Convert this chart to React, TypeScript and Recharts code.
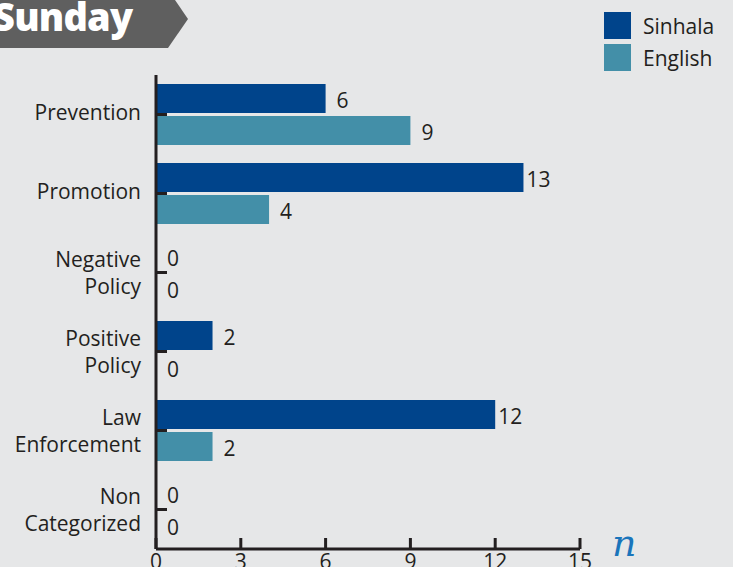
import React from "react";
import { BarChart, Bar, XAxis, YAxis, LabelList } from "recharts";

const categories = [
  ["Prevention"],
  ["Promotion"],
  ["Negative", "Policy"],
  ["Positive", "Policy"],
  ["Law", "Enforcement"],
  ["Non", "Categorized"],
];
const sinhala = [6, 13, 0, 2, 12, 0];
const english = [9, 4, 0, 0, 2, 0];
const xTicks = [0, 3, 6, 9, 12, 15];
const seriesNames = ["Sinhala", "English"];

const data = categories.map((c, i) => ({
  name: c.join(" "),
  Sinhala: sinhala[i],
  English: english[i],
}));
const labelLines: Record<string, string[]> = {};
categories.forEach((c) => (labelLines[c.join(" ")] = c));

const BG = "#e6e7e8";
const C1 = "#00448b";
const C2 = "#438fa8";
const INK = "#231f20";
const FONT = "'Open Sans', 'Noto Sans', sans-serif";

const YTick = (props: any) => {
  const { x, y, payload } = props;
  const lines = labelLines[payload.value] || [payload.value];
  const lh = 27;
  const start = y - ((lines.length - 1) * lh) / 2 - (lines.length === 1 ? 3 : 0);
  return (
    <g>
      <line x1={x} y1={y} x2={x + 11} y2={y} stroke={INK} strokeWidth={3} />
      {lines.map((l: string, i: number) => (
        <text
          key={i}
          x={x - 15}
          y={start + i * lh}
          textAnchor="end"
          dominantBaseline="central"
          fontSize={21}
          fontFamily={FONT}
          fill={INK}
        >
          {l}
        </text>
      ))}
    </g>
  );
};

const XTick = (props: any) => {
  const { x, y, payload } = props;
  return (
    <g>
      <line x1={x} y1={y - 11} x2={x} y2={y} stroke={INK} strokeWidth={3} />
      <text
        x={x}
        y={y + 20}
        textAnchor="middle"
        fontSize={21}
        fontFamily={FONT}
        fill={INK}
      >
        {payload.value}
      </text>
    </g>
  );
};

const ValueLabel = (props: any) => {
  const { x, y, width, height, value } = props;
  const v = Number(value);
  const off = v >= 10 ? 3 : 11;
  return (
    <text
      x={x + (v === 0 ? 0 : width) + off}
      y={y + height / 2 + 1}
      dominantBaseline="central"
      fontSize={21}
      fontFamily={FONT}
      fill={INK}
    >
      {v}
    </text>
  );
};

export default function App() {
  return (
    <div
      style={{
        position: "absolute",
        left: 0,
        top: 0,
        width: 733,
        height: 567,
        background: BG,
        overflow: "hidden",
      }}
    >
      <BarChart
        width={733}
        height={567}
        data={data}
        layout="vertical"
        margin={{ top: 75, right: 153, bottom: 0, left: 0 }}
        barSize={29}
        barGap={3}
        barCategoryGap={9}
      >
        <Bar dataKey="Sinhala" fill={C1} isAnimationActive={false} minPointSize={0.01}>
          <LabelList dataKey="Sinhala" content={<ValueLabel />} />
        </Bar>
        <Bar dataKey="English" fill={C2} isAnimationActive={false} minPointSize={0.01}>
          <LabelList dataKey="English" content={<ValueLabel />} />
        </Bar>
        <XAxis
          type="number"
          domain={[0, 15]}
          ticks={xTicks}
          height={18}
          axisLine={{ stroke: INK, strokeWidth: 3 }}
          tickLine={false}
          tickSize={0}
          tickMargin={0}
          tick={<XTick />}
          interval={0}
        />
        <YAxis
          type="category"
          dataKey="name"
          width={156}
          axisLine={{ stroke: INK, strokeWidth: 3 }}
          tickLine={false}
          tickSize={0}
          tickMargin={0}
          tick={<YTick />}
          interval={0}
        />
      </BarChart>

      <svg
        width={733}
        height={567}
        style={{ position: "absolute", left: 0, top: 0, pointerEvents: "none" }}
      >
        <polygon points="0,0 175,0 188,19 168,48 0,48" fill="#5f5f5f" />
        <text
          x={-7}
          y={31}
          fontSize={38}
          fontWeight={800}
          letterSpacing={-0.8}
          fontFamily={FONT}
          fill="#ffffff"
        >
          Sunday
        </text>
        <rect x={604} y={12} width={27} height={27} fill={C1} />
        <rect x={604} y={44} width={27} height={27} fill={C2} />
        <text x={643} y={26} dominantBaseline="central" fontSize={21} fontFamily={FONT} fill={INK}>
          {seriesNames[0]}
        </text>
        <text x={643} y={58} dominantBaseline="central" fontSize={21} fontFamily={FONT} fill={INK}>
          {seriesNames[1]}
        </text>
        <text
          x={612}
          y={556}
          fontSize={38}
          fontStyle="italic"
          fontFamily="'DejaVu Serif', serif"
          fill="#1a75bb"
        >
          n
        </text>
      </svg>
    </div>
  );
}
